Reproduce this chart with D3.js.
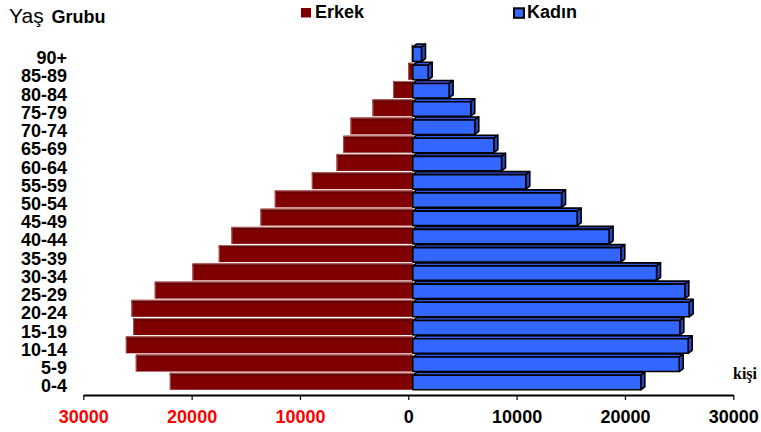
<!DOCTYPE html>
<html>
<head>
<meta charset="utf-8">
<script src="https://cdn.jsdelivr.net/npm/d3@7"></script>
<style>
  html, body { margin: 0; padding: 0; background: #fff; }
  svg { display: block; font-family: "Liberation Sans", Arial, sans-serif; }
</style>
</head>
<body>
<svg id="chart" width="761" height="432"></svg>
<script>
// ---- data (top row first) ----
const categories = ["90+","85-89","80-84","75-79","70-74","65-69","60-64","55-59","50-54","45-49",
                    "40-44","35-39","30-34","25-29","20-24","15-19","10-14","5-9","0-4"];
const erkek = [100, 430, 1820, 3720, 5750, 6430, 7040, 9320, 12740, 14060,
               16740, 17910, 20340, 23820, 25970, 25820, 26490, 25570, 22430];
const kadin = [800, 1420, 3350, 5350, 5720, 7480, 8190, 10430, 13730, 15170,
               18120, 19200, 22500, 25110, 25510, 24650, 25420, 24590, 21050];
const tickValues = [-30000, -20000, -10000, 0, 10000, 20000, 30000];
const seriesNames = ["Erkek", "Kadın"];

const svg = d3.select("#chart");

const x = d3.scaleLinear().domain([-30000, 30000]).range([83.3, 733.3]);
const y = d3.scaleBand().domain(categories).range([44, 390.5]).padding(0);
const bw = y.bandwidth();
const off = 4.5;          // bars sit slightly right of the axis zero (3D floor shift)
const dx = 4, dy = 3;     // 3D depth

// ---- male bars (dark red, bevelled) ----
const gM = svg.append("g");
categories.forEach((c, i) => {
  const v = erkek[i];
  if (v <= 0) return;
  const x0 = x(-v) + off, x1 = x(0) + off;
  const top = y(c) + 0.5, h = 17;
  gM.append("rect").attr("x", x0).attr("y", top).attr("width", x1 - x0).attr("height", h)
    .attr("fill", "#800000");
  gM.append("rect").attr("x", x0).attr("y", top + 1).attr("width", x1 - x0).attr("height", 2.2)
    .attr("fill", "#650000");
  gM.append("rect").attr("x", x0 + 1).attr("y", top).attr("width", x1 - x0 - 1).attr("height", 1)
    .attr("fill", "#b36a6a");
  gM.append("rect").attr("x", x0).attr("y", top + 1).attr("width", 1).attr("height", h - 1)
    .attr("fill", "#a85a5a");
});

// ---- female bars (blue, 3D boxes) ----
const gF = svg.append("g").attr("stroke", "#000").attr("stroke-width", 1.6).attr("stroke-linejoin", "round");
categories.forEach((c, i) => {
  const v = kadin[i];
  const x0 = x(0) + off, x1 = x(v) + off;
  const yt = y(c) + 3, yb = y(c) + 17.5;
  gF.append("path")
    .attr("d", `M${x0},${yt} L${x0 + dx},${yt - dy} L${x1 + dx},${yt - dy} L${x1},${yt} Z`)
    .attr("fill", "#3157e6");
  gF.append("path")
    .attr("d", `M${x1},${yt} L${x1 + dx},${yt - dy} L${x1 + dx},${yb - dy} L${x1},${yb} Z`)
    .attr("fill", "#2447c8");
  gF.append("rect").attr("x", x0).attr("y", yt).attr("width", x1 - x0).attr("height", yb - yt)
    .attr("fill", "#3366ff");
});

// ---- x axis ----
const axis = d3.axisBottom(x).tickValues(tickValues)
  .tickFormat(d => String(Math.abs(d))).tickSize(5).tickSizeOuter(0).tickPadding(10);
const gx = svg.append("g").attr("transform", "translate(0,395)").call(axis);
gx.select(".domain").attr("stroke", "#000").attr("stroke-width", 2);
gx.selectAll(".tick line").attr("stroke", "#000").attr("stroke-width", 1.2);
gx.selectAll(".tick text")
  .attr("font-family", "Liberation Sans, Arial, sans-serif")
  .attr("font-size", 18).attr("font-weight", "bold")
  .attr("fill", d => d < 0 ? "#ff0000" : "#000");

// ---- category labels ----
svg.append("g").selectAll("text").data(categories).join("text")
  .attr("x", 67).attr("y", d => y(d) + bw / 2 + 11)
  .attr("text-anchor", "end").attr("font-size", 18).attr("font-weight", "bold")
  .attr("fill", "#000").text(d => d);

// ---- title ----
svg.append("text").attr("x", 9).attr("y", 23.3).attr("font-size", 21).attr("fill", "#000").text("Yaş");
svg.append("text").attr("x", 51.5).attr("y", 23.3).attr("font-size", 18).attr("font-weight", "bold")
  .attr("fill", "#000").text("Grubu");

// ---- legend ----
svg.append("rect").attr("x", 301).attr("y", 8).attr("width", 10).attr("height", 9.5).attr("fill", "#800000");
svg.append("text").attr("x", 315).attr("y", 18.3).attr("font-size", 18).attr("font-weight", "bold").text(seriesNames[0]);
svg.append("rect").attr("x", 514).attr("y", 8.3).attr("width", 10).attr("height", 9.5)
  .attr("fill", "#3366ff").attr("stroke", "#000").attr("stroke-width", 2);
svg.append("text").attr("x", 527).attr("y", 18.3).attr("font-size", 18).attr("font-weight", "bold").text(seriesNames[1]);

// ---- unit label ----
svg.append("text").attr("x", 733).attr("y", 379)
  .attr("font-family", "Liberation Serif, 'Times New Roman', serif")
  .attr("font-size", 16).attr("font-weight", "bold").text("kişi");
</script>
</body>
</html>
